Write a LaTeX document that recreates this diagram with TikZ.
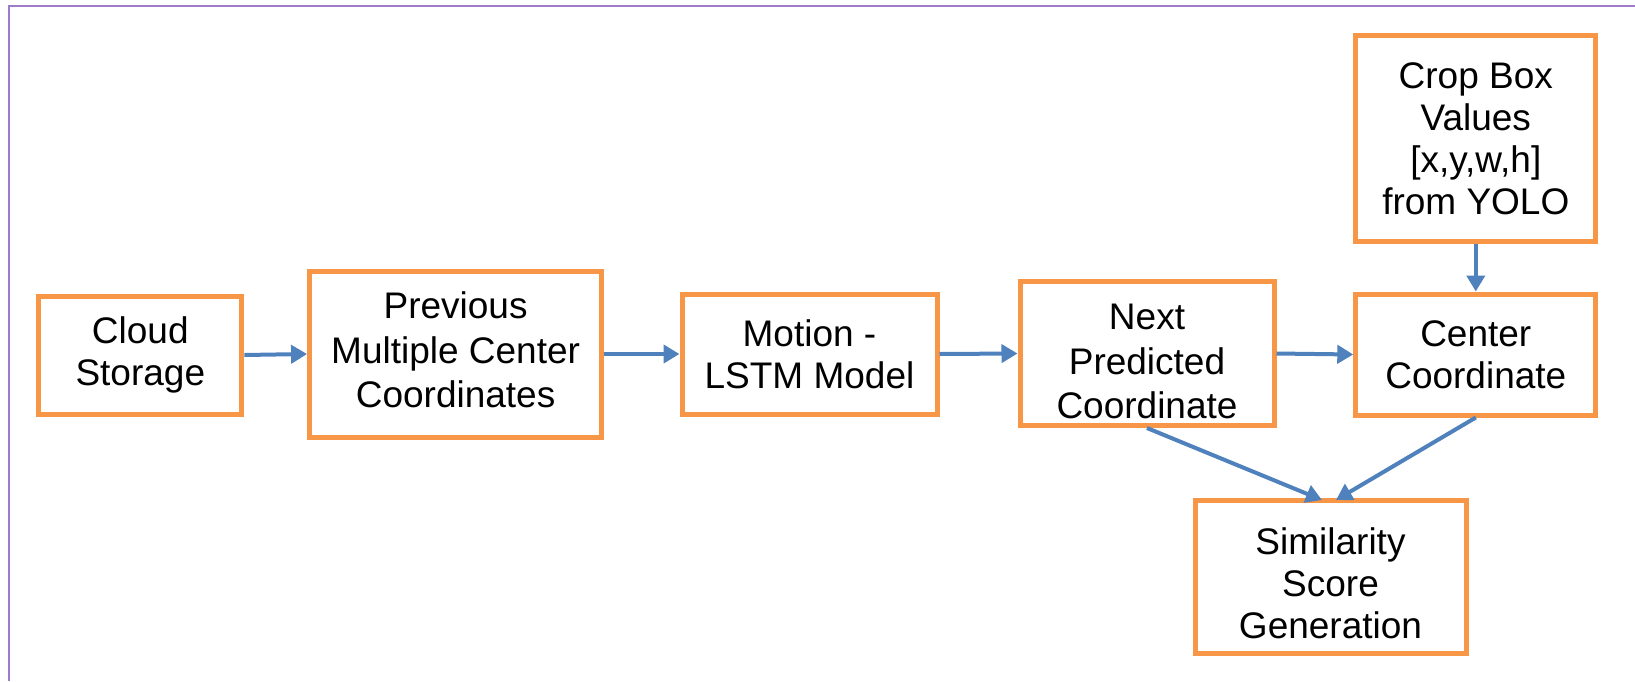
\documentclass[tikz,border=0pt]{standalone}
\usepackage{fontspec}
\setmainfont{Liberation Sans}
\usetikzlibrary{arrows.meta}
\definecolor{boxorange}{HTML}{F79646}
\definecolor{arrowblue}{HTML}{4F81BD}
\definecolor{framepurple}{HTML}{9E7BCB}
\begin{document}
\begin{tikzpicture}[x=0.5pt,y=-0.5pt,
  procbox/.style={draw=boxorange, line width=2.5pt, fill=white, align=center,
    inner sep=0pt, font=\fontsize{18.5}{21}\selectfont},
  boxtext/.style={align=center, inner sep=0pt, font=\fontsize{18.5}{22.3}\selectfont},
  flow/.style={draw=arrowblue, line width=2pt, -{Triangle[length=8pt,width=9pt]}}]
\useasboundingbox (0,0) rectangle (1635,681);
\fill[white] (0,0) rectangle (1635,681);
\draw[framepurple, line width=1pt] (9,681) -- (9,6) -- (1635,6);

\node[procbox, minimum width=101.5pt, minimum height=59pt] (cloud) at (140.3,355) {Cloud\\Storage};
\node[procbox, minimum width=146pt, minimum height=83pt,
  label={[boxtext, yshift=2pt]center:{Previous\\Multiple Center\\Coordinates}}] (prev) at (455.6,354) {};
\node[procbox, minimum width=127.5pt, minimum height=60pt] (motion) at (809.5,354) {Motion -\\LSTM Model};
\node[procbox, minimum width=127pt, minimum height=72pt,
  label={[boxtext, yshift=-4pt]center:{Next\\Predicted\\Coordinate}}] (next) at (1147,353.5) {};
\node[procbox, minimum width=120pt, minimum height=60.5pt] (center) at (1475.8,354.5) {Center\\Coordinate};
\node[procbox, minimum width=120pt, minimum height=103pt] (crop) at (1475.8,138.8) {Crop Box\\Values\\{[x,y,w,h]}\\from YOLO};
\node[procbox, minimum width=135.5pt, minimum height=76.5pt,
  label={[boxtext, font=\fontsize{18.5}{21}\selectfont, yshift=-3pt]center:{Similarity\\Score\\Generation}}] (sim) at (1330.5,577) {};

\coordinate (simin1) at (1322,500);
\coordinate (simin2) at (1336,500);

\draw[flow] (cloud.east) -- (prev.west);
\draw[flow] (prev.east) -- (motion.west);
\draw[flow] (motion.east) -- (next.west);
\draw[flow] (next.east) -- (center.west);
\draw[flow] (crop.south) -- (center.north);
\draw[flow] (next.south) -- (simin1);
\draw[flow] (center.south) -- (simin2);
\end{tikzpicture}
\end{document}
